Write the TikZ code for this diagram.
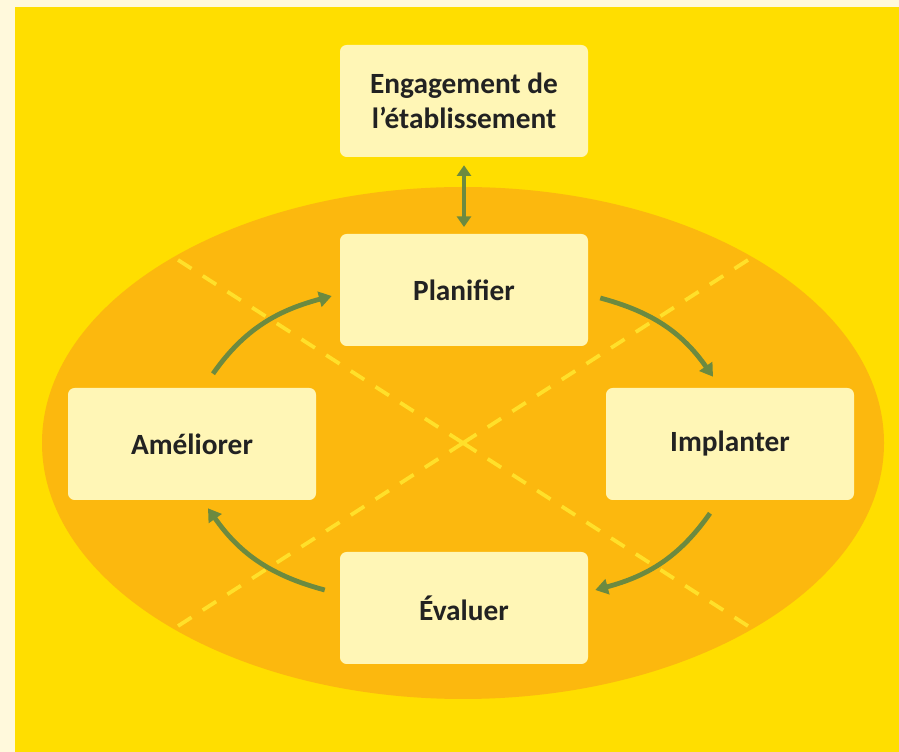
\documentclass[tikz,border=0pt]{standalone}
\usepackage{fontspec}
\setmainfont{Carlito}
\usetikzlibrary{arrows.meta}
\definecolor{cream}{HTML}{FFF9DC}
\definecolor{bgyellow}{HTML}{FFDE00}
\definecolor{ovalorange}{HTML}{FCB80E}
\definecolor{boxfill}{HTML}{FFF6B6}
\definecolor{arrowgreen}{HTML}{6C8A40}
\definecolor{dashyellow}{HTML}{FFE02A}
\definecolor{txt}{HTML}{222222}
\tikzset{
  stagebox/.style={fill=boxfill, rounded corners=5pt, minimum width=186pt, minimum height=84pt,
    align=center, font=\fontsize{22}{26}\selectfont\bfseries, text=txt, inner sep=0pt},
  cyclearrow/.style={draw=arrowgreen, line width=3.6pt, -{Triangle[length=9.5pt,width=11.5pt]}},
  crossdash/.style={draw=dashyellow, line width=2.8pt, dash pattern=on 12pt off 10pt}
}
\begin{document}
\begin{tikzpicture}[x=0.75pt,y=0.75pt]
\useasboundingbox (0,0) rectangle (899,752);
\fill[cream] (0,0) rectangle (899,752);
\fill[bgyellow] (15,0) rectangle (899,745);
\fill[ovalorange] (463,309) ellipse [x radius=421, y radius=256];
\begin{scope}
  \clip (463,309) ellipse [x radius=421, y radius=256];
  \path[crossdash] (463,309) -- (13,598);
  \path[crossdash] (463,309) -- (913,20);
  \path[crossdash] (463,309) -- (913,598);
  \path[crossdash] (463,309) -- (13,20);
\end{scope}
\node[stagebox] (eng) at (464,651) {Engagement de\\l’établissement};
\node[stagebox] (plan) at (464,462) {Planifier};
\node[stagebox] (ame) at (192,308) {Améliorer};
\node[stagebox] (imp) at (730,308) {Implanter};
\node[stagebox] (eva) at (464,144) {Évaluer};
\draw[draw=arrowgreen, line width=3.6pt, {Triangle[length=8pt,width=10.5pt]}-{Triangle[length=8pt,width=10.5pt]},
  shorten <=6pt, shorten >=5pt] (eng.south) -- (plan.north);
\draw[cyclearrow] ([xshift=15.75pt,yshift=10.5pt]ame.north) to[out=55,in=195] ([xshift=-6pt,yshift=-4.5pt]plan.west);
\draw[cyclearrow] ([xshift=9pt,yshift=-6pt]plan.east) to[out=-15,in=125] ([xshift=-12.75pt,yshift=8.25pt]imp.north);
\draw[cyclearrow] ([xshift=-15pt,yshift=-9.75pt]imp.south) to[out=-125,in=15] ([xshift=5.25pt,yshift=13.5pt]eva.east);
\draw[cyclearrow] ([xshift=-11.25pt,yshift=13.5pt]eva.west) to[out=165,in=-55] ([xshift=12pt,yshift=-6pt]ame.south);
\end{tikzpicture}
\end{document}
